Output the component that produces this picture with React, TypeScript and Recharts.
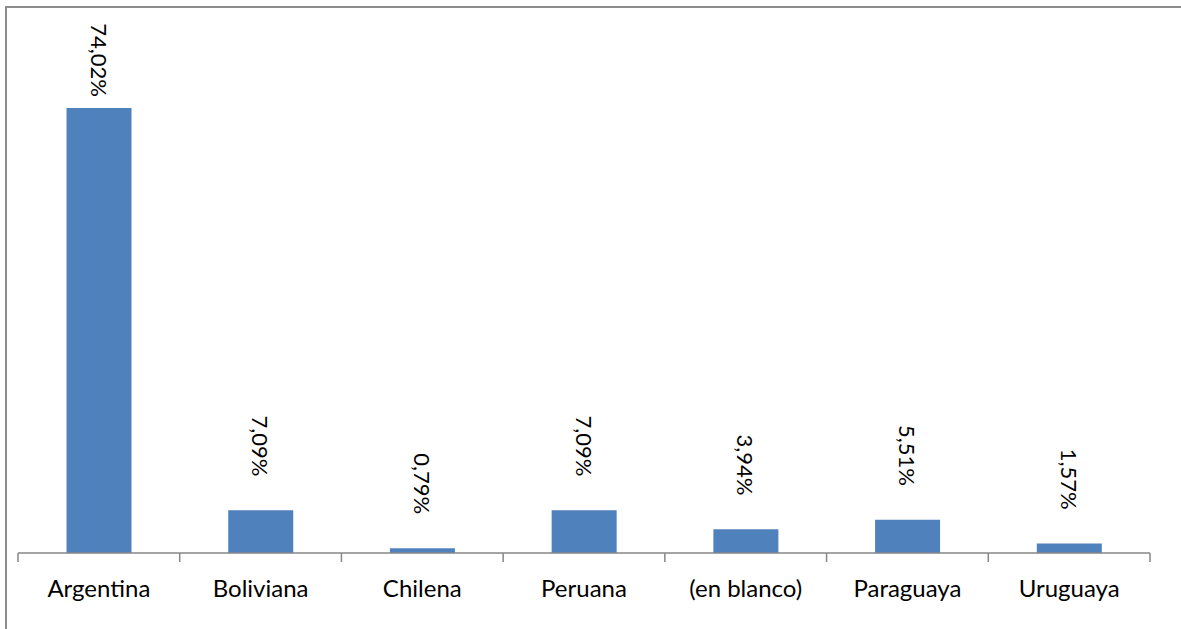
import React from 'react';
import { BarChart, Bar, XAxis, YAxis, LabelList } from 'recharts';

const categories = ['Argentina', 'Boliviana', 'Chilena', 'Peruana', '(en blanco)', 'Paraguaya', 'Uruguaya'];
const shares = [74.02, 7.09, 0.79, 7.09, 3.94, 5.51, 1.57];
const yDomain = [0, 80];

const chartData = categories.map((name, i) => ({ name, value: shares[i] }));

const FONT = 'Lato, "Open Sans", sans-serif';
const AXIS_GRAY = '#868686';
const BAND = (1181 - 18 - 31) / categories.length;

const fmt = (v: number) => v.toFixed(2).replace('.', ',') + '%';

function CategoryTick(props: any) {
  const { x, y, payload, index } = props;
  const half = BAND / 2;
  return (
    <g>
      <line x1={x - half} y1={y} x2={x - half} y2={y + 9} stroke={AXIS_GRAY} strokeWidth={1.5} />
      {index === categories.length - 1 && (
        <line x1={x + half} y1={y} x2={x + half} y2={y + 9} stroke={AXIS_GRAY} strokeWidth={1.5} />
      )}
      <text x={x} y={y + 44} textAnchor="middle" fontSize={24} fontFamily={FONT} fill="#000">
        {payload.value}
      </text>
    </g>
  );
}

function ValueLabel(props: any) {
  const { x, y, width, value } = props;
  const cx = x + width / 2;
  // labels sit above the bar, but never run past the top of the chart
  const end = Math.max(y - 34, 97);
  return (
    <text
      x={cx}
      y={end}
      transform={`rotate(90 ${cx} ${end})`}
      textAnchor="end"
      dominantBaseline="central"
      fontSize={22}
      fontFamily={FONT}
      fill="#000"
    >
      {fmt(value)}
    </text>
  );
}

export default function App() {
  return (
    <div style={{ position: 'fixed', left: 0, top: 0, width: 1181, height: 629, background: '#fff', overflow: 'hidden' }}>
      <div
        style={{
          position: 'absolute',
          left: 5,
          top: 6,
          width: 1200,
          height: 640,
          borderLeft: '2px solid #8c8c8c',
          borderTop: '2px solid #8c8c8c',
        }}
      />
      <div style={{ position: 'absolute', left: 0, top: 0 }}>
        <BarChart
          width={1181}
          height={629}
          data={chartData}
          margin={{ top: 72, right: 31, left: 18, bottom: 46 }}
          barCategoryGap="30%"
        >
          <XAxis
            dataKey="name"
            height={30}
            axisLine={{ stroke: AXIS_GRAY, strokeWidth: 1.5 }}
            tickLine={false}
            tickSize={0}
            tickMargin={0}
            interval={0}
            tick={<CategoryTick />}
          />
          <YAxis hide domain={yDomain} />
          <Bar dataKey="value" fill="#4f81bd" isAnimationActive={false}>
            <LabelList dataKey="value" content={<ValueLabel />} />
          </Bar>
        </BarChart>
      </div>
    </div>
  );
}
